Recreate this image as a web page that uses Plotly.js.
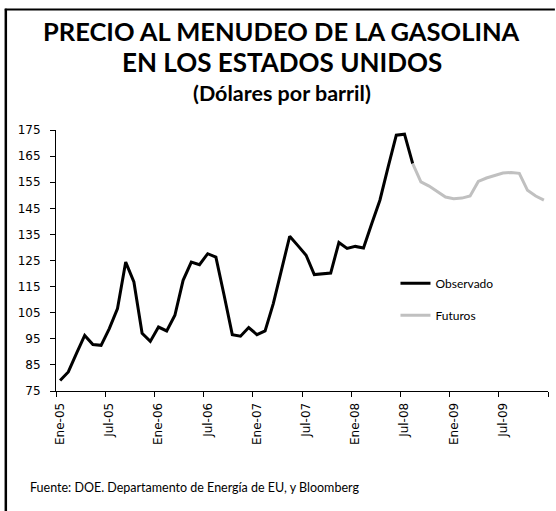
<!DOCTYPE html>
<html>
<head>
<meta charset="utf-8">
<script src="https://cdn.plot.ly/plotly-3.0.1.min.js"></script>
<style>
  html, body { margin: 0; padding: 0; background: #fff; }
  #chart { width: 556px; height: 511px; }
</style>
</head>
<body>
<div id="chart"></div>
<script>
// Observed monthly retail gasoline price (USD per barrel), Jan-2005 .. Aug-2008
const observado = [
  79.0, 82.3, 89.4, 96.3, 92.8, 92.5, 98.9, 106.6, 124.4, 116.8, 97.1, 94.0,
  99.5, 98.0, 104.0, 117.4, 124.4, 123.4, 127.6, 126.3, 111.7, 96.6, 96.0, 99.3,
  96.6, 98.0, 108.5, 121.4, 134.3, 130.7, 127.0, 119.6, 120.0, 120.2, 131.9, 129.6,
  130.4, 129.8, 139.1, 148.1, 160.8, 173.0, 173.4, 162.1
];
// Futures, Aug-2008 .. Dec-2009
const futuros = [
  162.1, 155.1, 153.5, 151.5, 149.3, 148.7, 148.9, 149.7, 155.3, 156.6, 157.6,
  158.5, 158.7, 158.4, 151.9, 149.7, 148.1
];
const futurosInicio = 43; // month index where futures start (Aug-2008)
const totalMeses = 60;     // Jan-2005 .. Dec-2009

const tickMeses = [0, 6, 12, 18, 24, 30, 36, 42, 48, 54];
const tickEtiquetas = ["Ene-05", "Jul-05", "Ene-06", "Jul-06", "Ene-07",
                       "Jul-07", "Ene-08", "Jul-08", "Ene-09", "Jul-09"];
const yTicks = [75, 85, 95, 105, 115, 125, 135, 145, 155, 165, 175];

const tituloLineas = ["PRECIO AL MENUDEO DE LA GASOLINA", "EN LOS ESTADOS UNIDOS", "(Dólares por barril)"];
const fuente = "Fuente: DOE. Departamento de Energía de EU, y Bloomberg";

const xObs = observado.map((_, i) => i);
const xFut = futuros.map((_, i) => i + futurosInicio);

const traces = [
  {
    x: xObs, y: observado, type: "scatter", mode: "lines", name: "Observado",
    line: { color: "#000000", width: 3 }, legendgroup: "a"
  },
  {
    x: xFut, y: futuros, type: "scatter", mode: "lines", name: "Futuros",
    line: { color: "#c0c0c0", width: 3 }, legendgroup: "b"
  }
];

const tituloFont = "Lato, 'Open Sans', sans-serif";

const layout = {
  width: 556, height: 511,
  paper_bgcolor: "#ffffff", plot_bgcolor: "#ffffff",
  margin: { l: 56, r: 8, t: 130, b: 120, pad: 0 },
  showlegend: true,
  legend: {
    x: 0.69, y: 0.468, xanchor: "left", yanchor: "top",
    font: { family: tituloFont, size: 12, color: "#000" },
    bgcolor: "rgba(0,0,0,0)", tracegroupgap: 13, itemwidth: 30
  },
  xaxis: {
    range: [-0.5, totalMeses - 0.5],
    tickmode: "array", tickvals: tickMeses, ticktext: tickEtiquetas,
    tickangle: -90,
    ticks: "outside", ticklen: 6, tickcolor: "rgba(0,0,0,0)",
    minor: { tick0: -0.5, dtick: 6, ticks: "outside", ticklen: 5, tickcolor: "#000", tickwidth: 1, showgrid: false },
    showline: true, linecolor: "#000", linewidth: 1,
    showgrid: false, zeroline: false,
    tickfont: { family: "'DejaVu Sans', sans-serif", size: 12, color: "#000" }
  },
  yaxis: {
    range: [75, 175],
    tickmode: "array", tickvals: yTicks,
    ticks: "outside", ticklen: 5, tickcolor: "#000", tickwidth: 1,
    ticklabelstandoff: 7,
    showline: true, linecolor: "#000", linewidth: 1,
    showgrid: false, zeroline: false,
    tickfont: { family: "'DejaVu Sans', sans-serif", size: 12, color: "#000" }
  },
  annotations: [
    {
      text: tituloLineas[0], xref: "paper", yref: "paper", x: 0.459, y: 1.378,
      xanchor: "center", yanchor: "middle", showarrow: false,
      font: { family: tituloFont, size: 25.5, color: "#000", weight: 700 }
    },
    {
      text: tituloLineas[1], xref: "paper", yref: "paper", x: 0.459, y: 1.259,
      xanchor: "center", yanchor: "middle", showarrow: false,
      font: { family: tituloFont, size: 26, color: "#000", weight: 700 }
    },
    {
      text: tituloLineas[2], xref: "paper", yref: "paper", x: 0.459, y: 1.141,
      xanchor: "center", yanchor: "middle", showarrow: false,
      font: { family: tituloFont, size: 21.5, color: "#000", weight: 700 }
    },
    {
      text: fuente,
      xref: "paper", yref: "paper", x: -0.056, y: -0.37,
      xanchor: "left", yanchor: "middle", showarrow: false,
      font: { family: tituloFont, size: 12.5, color: "#000" }
    }
  ],
  shapes: [
    { type: "line", xref: "paper", yref: "paper", x0: -0.102, x1: -0.102, y0: 1.465, y1: -0.5,
      line: { color: "#000", width: 2.5 } },
    { type: "line", xref: "paper", yref: "paper", x0: -0.104, x1: 1.014, y0: 1.462, y1: 1.462,
      line: { color: "#000", width: 2 } }
  ]
};

Plotly.newPlot("chart", traces, layout, { displayModeBar: false, staticPlot: true });
</script>
</body>
</html>
